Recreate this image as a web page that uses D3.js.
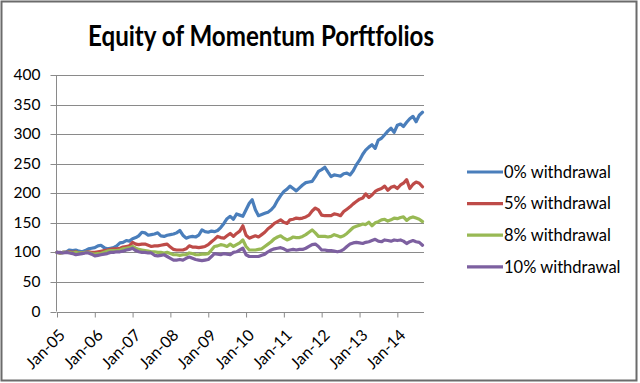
<!DOCTYPE html>
<html><head><meta charset="utf-8">
<script src="https://cdn.jsdelivr.net/npm/d3@7"></script>
<style>
html,body{margin:0;padding:0;background:#fff;}
svg{display:block;}
text{font-family:Lato,"Open Sans",sans-serif;fill:#000;}
</style></head>
<body>
<script>
const title = "Equity of Momentum Porftfolios";
const startYear = 2005, monthCount = 117;
const yTicks = [0, 50, 100, 150, 200, 250, 300, 350, 400];
const seriesNames = ["0% withdrawal", "5% withdrawal", "8% withdrawal", "10% withdrawal"];
const seriesColors = ["#4A7EBB", "#BE4B48", "#98B954", "#7D60A0"];

const w0 = [
 100,99,100,101,104,103,104,102,101,103,106,107,
 108,111,112,108,106,107,108,111,116,117,120,119,
 123,125,128,134,133,129,130,131,133,128,127,129,
 130,131,133,137,129,124,126,127,126,129,138,135,
 134,136,135,137,142,149,157,161,156,165,163,161,
 172,183,189,172,162,164,166,168,172,178,188,196,
 203,207,212,208,204,209,214,218,219,220,228,237,
 240,244,236,228,231,230,229,233,234,231,238,248,
 256,266,273,278,282,276,290,293,299,305,310,303,
 315,317,313,320,326,330,321,332,337];
const w5 = [
 100,99,100,100,101,100,101,99,99,100,101,100,
 100,101,102,103,104,105,106,106,107,109,110,111,
 117,114,113,114,114,112,110,111,111,112,113,114,
 109,105,104,104,104,106,111,109,109,108,109,110,
 113,118,122,127,125,124,128,132,127,132,136,145,
 129,124,126,128,126,130,134,140,144,149,152,155,
 151,149,155,156,158,157,158,160,163,170,175,172,
 163,162,162,162,165,164,162,169,173,177,182,186,
 190,192,199,193,197,203,206,208,212,205,210,212,
 208,214,217,223,208,215,219,217,211];
const w8 = [
 100,99,100,100,100,99,100,99,99,100,100,98,
 97,98,98,100,102,103,103,103,104,106,107,108,
 110,107,105,104,103,102,101,101,100,100,99,100,
 98,96,96,95,96,96,99,98,96,96,97,97,
 98,104,110,111,113,112,110,114,110,113,116,121,
 110,104,104,104,105,106,110,114,118,123,126,128,
 124,121,123,126,125,125,127,130,134,138,133,127,
 127,127,126,127,130,128,126,128,132,137,142,144,
 146,148,147,151,145,150,152,155,156,153,155,158,
 157,159,160,154,158,160,158,156,152];
const w10 = [
 100,100,99,100,99,98,96,97,98,99,99,97,
 94,95,96,97,98,100,100,101,101,102,104,105,
 107,103,101,100,100,99,99,95,94,95,96,93,
 90,87,87,88,87,90,92,90,88,87,86,87,
 88,93,98,97,96,98,97,96,100,101,104,107,
 96,93,93,93,93,95,97,101,104,106,107,108,
 106,103,104,105,104,105,105,107,110,113,114,110,
 104,104,103,103,102,101,102,105,110,114,116,117,
 116,115,117,118,120,122,119,118,121,120,119,121,
 120,121,119,115,118,120,118,117,112];
const seriesValues = [w0, w5, w8, w10];

const months = d3.range(monthCount).map(i => new Date(startYear, i, 1));

const W = 640, H = 383;
const svg = d3.select("body").append("svg").attr("width", W).attr("height", H);

// outer chart border
svg.append("rect").attr("x", 1.5).attr("y", 1.5).attr("width", 635).attr("height", 379)
  .attr("fill", "#fff").attr("stroke", "#6b6b6b").attr("stroke-width", 2);

svg.append("text").attr("x", 261).attr("y", 46).attr("text-anchor", "middle")
  .style("font-size", "29px").style("font-weight", "bold")
  .attr("textLength", 346).attr("lengthAdjust", "spacingAndGlyphs")
  .text(title);

const x = d3.scaleTime().domain([months[0], months[monthCount - 1]]).range([57, 422.5]);
const y = d3.scaleLinear().domain([0, 400]).range([311.5, 75]);
const xEnd = 424;

// gridlines
svg.append("g").selectAll("line").data(yTicks.filter(d => d > 0)).join("line")
  .attr("x1", 57).attr("x2", xEnd).attr("y1", d => Math.round(y(d)) + 0.5).attr("y2", d => Math.round(y(d)) + 0.5)
  .attr("stroke", "#8a8a8a").attr("stroke-width", 1);

// y axis
const yAxis = svg.append("g").attr("transform", "translate(56.5,0)")
  .call(d3.axisLeft(y).tickValues(yTicks).tickSize(6).tickPadding(10));
yAxis.select(".domain").attr("stroke", "#8a8a8a").attr("d", `M0,${y(0)}V${y(400)}`);
yAxis.selectAll(".tick line").attr("stroke", "#8a8a8a");
yAxis.selectAll(".tick").attr("transform", d => `translate(0,${Math.round(y(d)) + 0.5})`);
yAxis.selectAll("text").style("font-size", "15.5px").style("font-family", "Lato, 'Open Sans', sans-serif").attr("fill", "#000");

// x axis
const yearTicks = d3.timeYear.range(new Date(startYear, 0, 1), new Date(2014, 1, 1));
const xAxis = svg.append("g").attr("transform", `translate(0,${Math.round(y(0)) + 0.5})`)
  .call(d3.axisBottom(x).tickValues(yearTicks).tickFormat(d3.timeFormat("%b-%y")).tickSize(5).tickSizeOuter(0));
xAxis.select(".domain").attr("stroke", "#8a8a8a").attr("d", `M57,0H${xEnd}`);
xAxis.selectAll(".tick line").attr("stroke", "#8a8a8a");
xAxis.selectAll("text").style("font-size", "16px").style("font-family", "Lato, 'Open Sans', sans-serif")
  .attr("fill", "#000").attr("text-anchor", "end").attr("dy", null)
  .attr("transform", "translate(3,18) rotate(-45)");

// lines
const line = d3.line().x((d, i) => x(months[i])).y(d => y(d)).curve(d3.curveLinear);
svg.append("g").selectAll("path").data(seriesValues).join("path")
  .attr("d", d => line(d)).attr("fill", "none")
  .attr("stroke", (d, i) => seriesColors[i]).attr("stroke-width", 3.2)
  .attr("stroke-linejoin", "round").attr("stroke-linecap", "round");

// legend
const legend = svg.append("g").selectAll("g").data(seriesNames).join("g")
  .attr("transform", (d, i) => `translate(467,${172 + i * 31.6})`);
legend.append("line").attr("x1", 0).attr("x2", 36).attr("y1", 0).attr("y2", 0)
  .attr("stroke", (d, i) => seriesColors[i]).attr("stroke-width", 3.2);
legend.append("text").attr("x", 37).attr("y", 0).attr("dy", "0.35em")
  .style("font-size", "16.5px").text(d => d);
</script>
</body></html>
